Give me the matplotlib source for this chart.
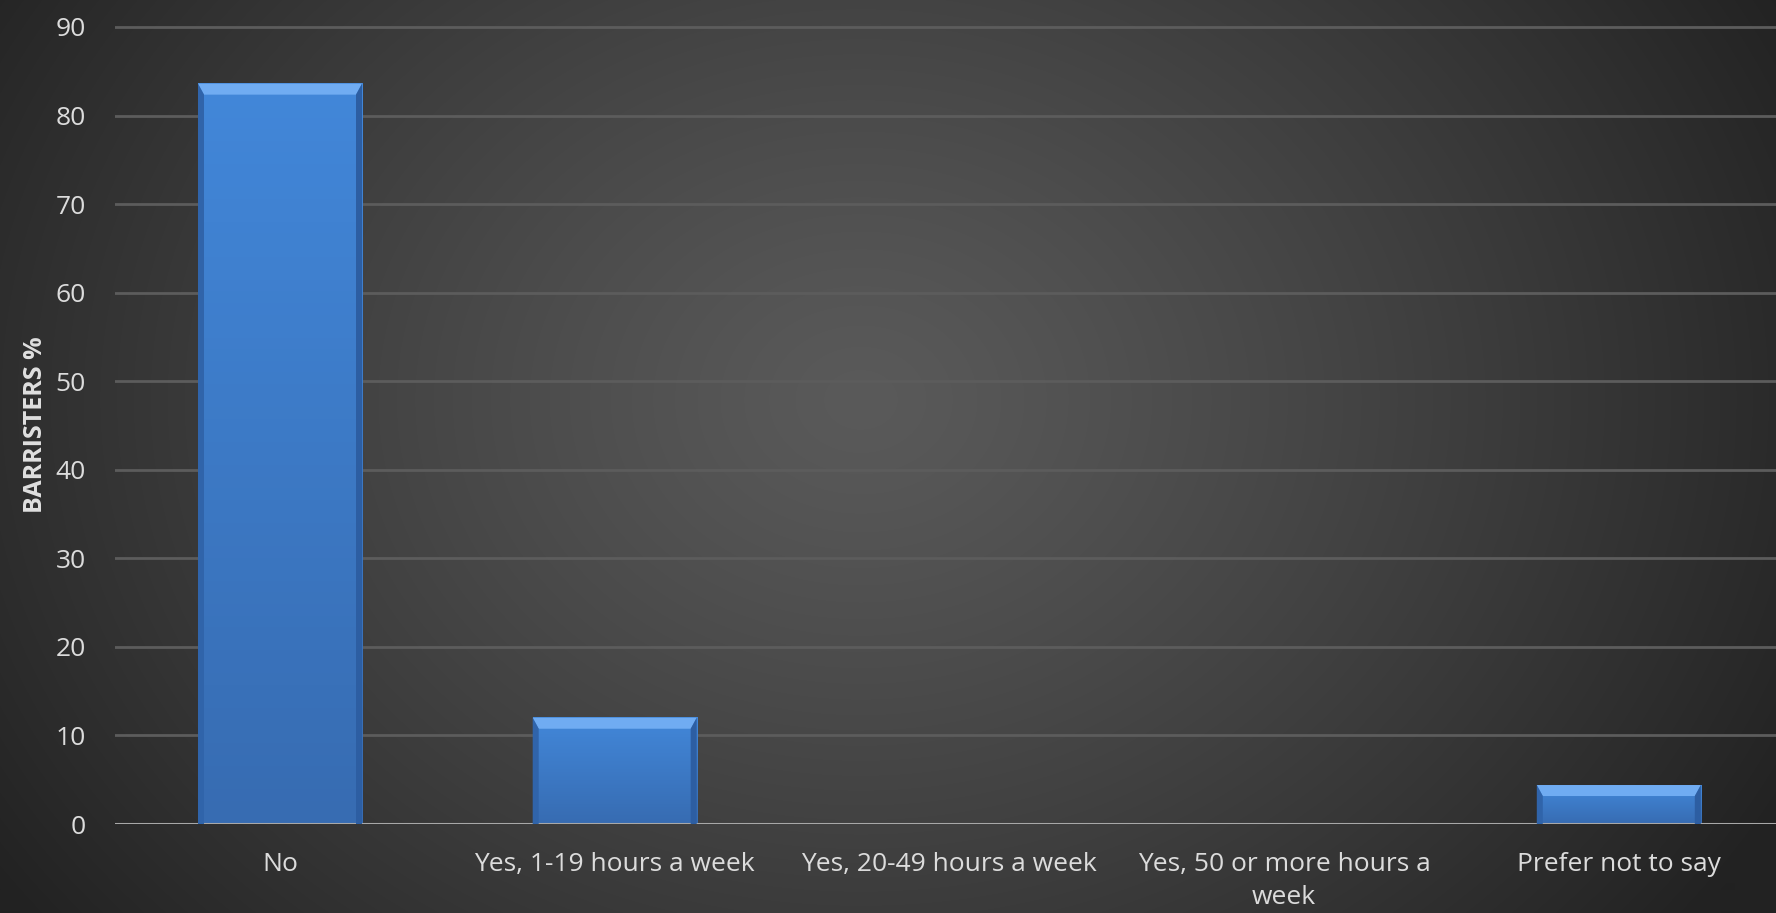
import numpy as np
import matplotlib
matplotlib.use("Agg")
import matplotlib.pyplot as plt
from matplotlib.patches import Polygon
from matplotlib.transforms import IdentityTransform

categories = ["No", "Yes, 1-19 hours a week", "Yes, 20-49 hours a week",
              "Yes, 50 or more hours a\nweek", "Prefer not to say"]
values = [83.6, 12.0, 0.0, 0.0, 4.4]
yticks = [0, 10, 20, 30, 40, 50, 60, 70, 80, 90]
ylabel = "BARRISTERS %"

W, H, DPI = 1776, 913, 100
fig = plt.figure(figsize=(W / DPI, H / DPI), dpi=DPI)

# background radial gradient
bg = fig.add_axes([0, 0, 1, 1], zorder=-10)
yy, xx = np.mgrid[0:H, 0:W]
cx, cy = 860, 400
r = np.sqrt(((xx - cx) / 1050.0) ** 2 + ((yy - cy) / 850.0) ** 2)
inner = np.array([0x5a, 0x5a, 0x5a]) / 255.0
outer = np.array([0x22, 0x22, 0x22]) / 255.0
t = np.clip(r / 1.0, 0, 1) ** 1.2
img = inner[None, None, :] * (1 - t[..., None]) + outer[None, None, :] * t[..., None]
bg.imshow(img, aspect="auto", extent=[0, 1, 0, 1], origin="upper")
bg.axis("off")

zero_px = 824
px_per_unit = 8.856
ytop = 91
left_px = 115
cat_px = 334.7
c0_px = 280

ax = fig.add_axes([left_px / W, (H - zero_px) / H, 1 - left_px / W,
                   ytop * px_per_unit / H])
ax.set_facecolor("none")
xlim = (-(c0_px - left_px) / cat_px, (W - c0_px) / cat_px)
ax.set_xlim(*xlim)
ax.set_ylim(0, ytop)

x = np.arange(len(categories))
bars = ax.bar(x, values, width=0.49, color="#3d7fcf", zorder=3, linewidth=0)

ax.set_yticks(yticks)
ax.set_xticks(x)
ax.set_xticklabels(categories, fontsize=19, color="#dcdcdc", family="Open Sans",
                   linespacing=1.45)
ax.set_yticklabels([str(v) for v in yticks], fontsize=19, color="#dcdcdc",
                   family="Open Sans")
ax.tick_params(axis="both", length=0)
ax.tick_params(axis="y", pad=21)
ax.tick_params(axis="x", pad=20)
for s in ax.spines.values():
    s.set_visible(False)
ax.grid(axis="y", color="#5c5c5c", linewidth=2.0, zorder=1)
ax.set_axisbelow(True)
ax.axhline(0, color="#a8a8a8", linewidth=2.2, zorder=4)

lab = ax.set_ylabel(ylabel, fontsize=18, fontweight="bold", color="#e0e0e0",
                    family="Open Sans")
lab.set_verticalalignment("center")
lab.set_horizontalalignment("center")
ax.yaxis.set_label_coords(36, H - 425, transform=IdentityTransform())

# bevel overlays
fig.canvas.draw()
for b in bars:
    if b.get_height() <= 0:
        continue
    (x0, y0), (x1, y1) = ax.transData.transform(
        [(b.get_x(), 0), (b.get_x() + b.get_width(), b.get_height())])
    tb = 11
    sb = 6
    grad = np.linspace(0, 1, 64)[:, None]
    top_c = np.array([0x42, 0x87, 0xd9]) / 255
    bot_c = np.array([0x37, 0x6c, 0xb2]) / 255
    g = top_c[None, None, :] * (1 - grad[..., None]) + bot_c[None, None, :] * grad[..., None]
    g = np.repeat(g, 2, axis=1)
    ax.imshow(g, extent=[b.get_x(), b.get_x() + b.get_width(), 0, b.get_height()],
              aspect="auto", zorder=3.1, origin="upper")
    top = Polygon([(x0, y1), (x1, y1), (x1 - sb, y1 - tb), (x0 + sb, y1 - tb)],
                  closed=True, facecolor="#70acf2", edgecolor="none",
                  transform=IdentityTransform(), zorder=3.5)
    lft = Polygon([(x0, y1), (x0 + sb, y1 - tb), (x0 + sb, y0), (x0, y0)],
                  closed=True, facecolor="#3064aa", edgecolor="none",
                  transform=IdentityTransform(), zorder=3.5)
    rgt = Polygon([(x1, y1), (x1 - sb, y1 - tb), (x1 - sb, y0), (x1, y0)],
                  closed=True, facecolor="#2d5ea2", edgecolor="none",
                  transform=IdentityTransform(), zorder=3.5)
    for p in (top, lft, rgt):
        fig.add_artist(p)

ax.set_xlim(*xlim)
ax.set_ylim(0, ytop)
fig.savefig("out.png", dpi=DPI)
